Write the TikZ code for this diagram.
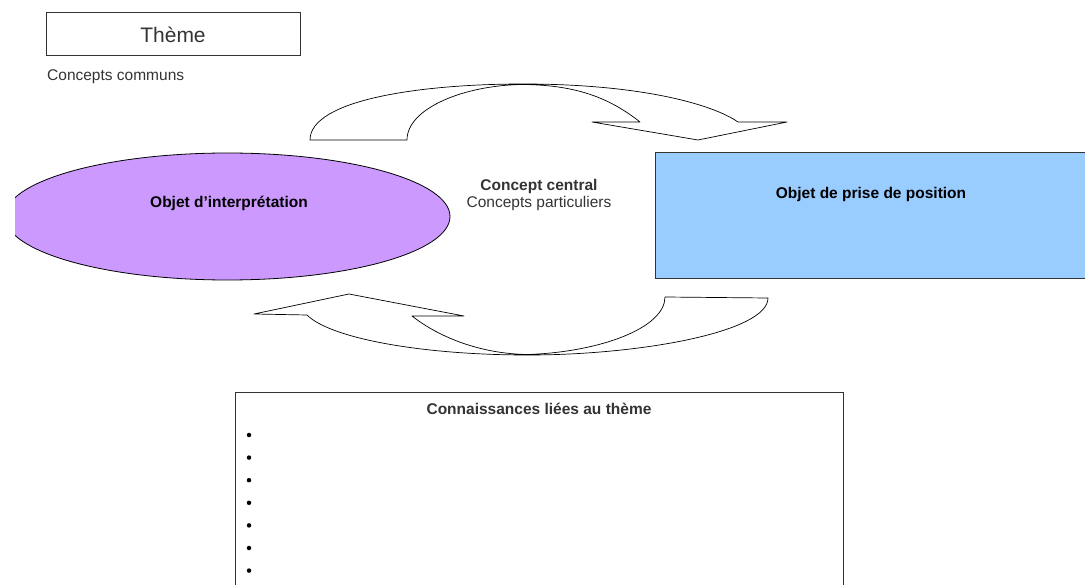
\documentclass[tikz,border=0pt]{standalone}
\usepackage{fontspec}
\usetikzlibrary{shapes.geometric}
\setmainfont{Liberation Sans}
\definecolor{lilac}{HTML}{CC99FF}
\definecolor{skyblue}{HTML}{99CCFF}
\definecolor{edge}{HTML}{333333}

\begin{document}
\begin{tikzpicture}[
                x = 1pt, y = -1pt,
                txt/.style = {inner sep = 0mm, font = \fontsize{15.5}{17}\selectfont},
                bold/.style = {txt, font = \fontsize{15.5}{17}\selectfont\bfseries},
                box/.style = {draw = edge, line width = 1pt, rectangle},
                puce/.style = {circle, fill, inner sep = 0mm, minimum size = 4.5pt},
                curvearrow/.style = {draw = black, fill = white, line width = 0.7pt, line join = round},
            ]
            \useasboundingbox (0, 0) rectangle (1085, 585);

            \node (theme) at (173, 34.5) [box, minimum width = 254pt, minimum height = 43pt,
                font = \fontsize{21}{24}\selectfont, text = edge] {Thème};
            \node (communs) at (47, 77) [txt, anchor = west, text = edge] {Concepts communs};

            \begin{scope}
                \clip (15, 140) rectangle (470, 295);
                \node (interp) at (227.5, 216.5) [ellipse, draw = black, fill = lilac, line width = 0.8pt,
                    inner sep = 0mm, minimum width = 445pt, minimum height = 127pt] {};
            \end{scope}
            \node (interp-txt) at (229, 203) [bold] {Objet d'interprétation};

            \node (prise) at (875, 216) [box, fill = skyblue, minimum width = 440pt, minimum height = 126pt] {};
            \node (prise-txt) at (871, 194) [bold] {Objet de prise de position};

            \node (central) at (539, 186) [bold, text = edge] {Concept central};
            \node (particuliers) at (539, 203) [txt, text = edge] {Concepts particuliers};

            % courbe du haut
            \path[curvearrow] (310, 140) .. controls (310, 100) and (420, 84) .. (523, 84)
                .. controls (640, 84) and (712, 104) .. (738, 122)
                -- (787, 122) -- (698, 140) -- (592, 122) -- (640, 122)
                .. controls (612, 100) and (580, 85) .. (523, 84.5)
                .. controls (465, 85) and (407, 108) .. (407, 140) -- cycle;

            % courbe du bas
            \path[curvearrow] (768, 298) .. controls (768, 332) and (640, 355) .. (528, 355)
                .. controls (420, 355) and (330, 338) .. (307, 315)
                -- (254, 314) -- (349, 294) -- (464, 316) -- (412, 316)
                .. controls (440, 338) and (482, 354) .. (528, 354.5)
                .. controls (600, 352) and (665, 328) .. (665, 297) -- cycle;

            \node (savoirs) at (539, 500) [box, minimum width = 608pt, minimum height = 214pt] {};
            \node (savoirs-txt) at (539, 409) [bold, text = edge] {Connaissances liées au thème};
            \foreach \i in {0, ..., 6} {
                \node (puce-\i) at (249, 435 + 22.6 * \i) [puce] {};
            }
        \end{tikzpicture}
\end{document}
